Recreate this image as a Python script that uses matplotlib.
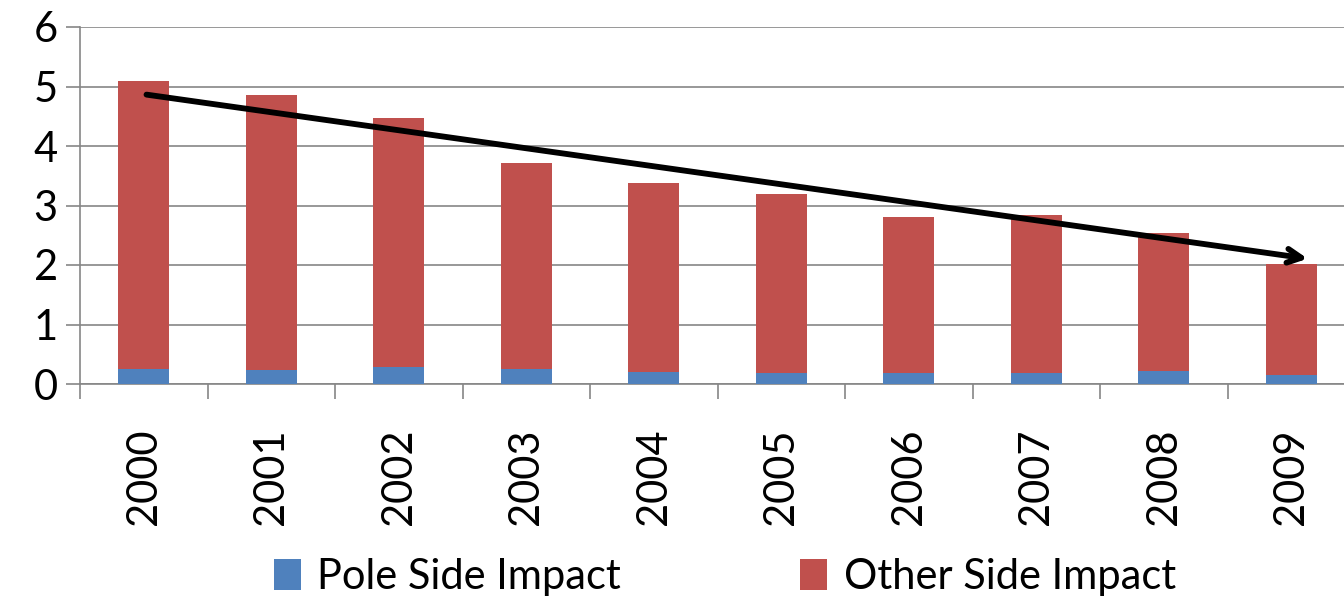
import matplotlib.pyplot as plt
import numpy as np

years = ['2000', '2001', '2002', '2003', '2004', '2005', '2006', '2007', '2008', '2009']
pole = [0.25, 0.23, 0.28, 0.26, 0.21, 0.18, 0.19, 0.18, 0.22, 0.15]
total = [5.09, 4.86, 4.47, 3.71, 3.38, 3.19, 2.81, 2.84, 2.54, 2.02]
other = [t - p for t, p in zip(total, pole)]

# trend arrow ends (category index, value)
trend_start = (0.0, 4.87)
trend_end = (9.15, 2.10)

plt.rcParams['font.family'] = ['Lato', 'DejaVu Sans']

fig = plt.figure(figsize=(13.44, 5.99), dpi=100)
ax = fig.add_axes([80 / 1344, 1 - 384 / 599, 1275 / 1344, 357 / 599])

x = np.arange(len(years))
ax.bar(x, pole, width=0.4, color='#4F81BD', label='Pole Side Impact', zorder=3)
ax.bar(x, other, width=0.4, bottom=pole, color='#C0504D', label='Other Side Impact', zorder=3)

ax.annotate('', xy=trend_end, xytext=trend_start,
            arrowprops=dict(arrowstyle='->,head_length=1.0,head_width=0.5', color='black', lw=4.2),
            zorder=5)

ax.set_xlim(-0.5, 9.5)
ax.set_ylim(0, 6)
ax.set_yticks(range(0, 7))
ax.tick_params(axis='y', labelsize=30, length=10, width=1.2, color='#868686', pad=6)
ax.grid(axis='y', color='#868686', lw=1.2, zorder=0)

ax.set_xticks(x)
ax.set_xticklabels(years, rotation=90, fontsize=30)
ax.tick_params(axis='x', length=0, pad=32)
ax.set_xticks(np.arange(-0.5, 10, 1), minor=True)
ax.tick_params(axis='x', which='minor', length=11, width=1.2, color='#868686')

for s in ['top', 'right']:
    ax.spines[s].set_visible(False)
ax.spines['left'].set_color('#868686')
ax.spines['left'].set_linewidth(1.2)
ax.spines['bottom'].set_color('#868686')
ax.spines['bottom'].set_linewidth(1.2)

fig.legend(loc='center', bbox_to_anchor=(725 / 1344, 1 - 577 / 599), ncol=2, frameon=False,
           fontsize=30, handlelength=0.65, handleheight=0.75, handletextpad=0.4,
           columnspacing=4.3)

fig.savefig('out.png', dpi=100)
